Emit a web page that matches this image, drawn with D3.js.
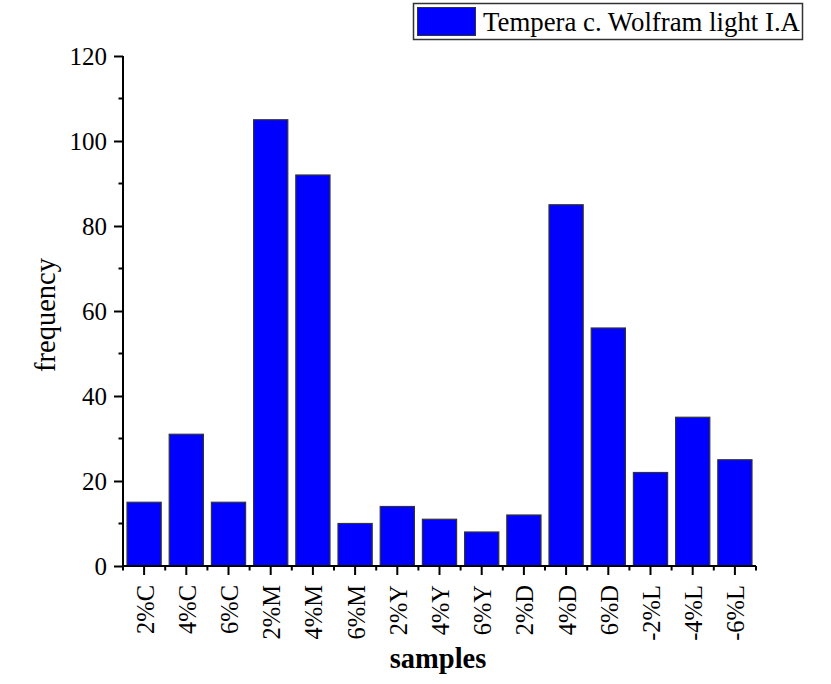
<!DOCTYPE html>
<html><head><meta charset="utf-8">
<script src="https://cdn.jsdelivr.net/npm/d3@7"></script>
<style>body{margin:0;background:#fff}svg{display:block}text{font-family:"Liberation Serif","Times New Roman",serif;fill:#000}</style>
</head><body>
<svg id="c" width="831" height="684"></svg>
<script>
const categories = ["2%C","4%C","6%C","2%M","4%M","6%M","2%Y","4%Y","6%Y","2%D","4%D","6%D","-2%L","-4%L","-6%L"];
const values = [15,31,15,105,92,10,14,11,8,12,85,56,22,35,25];
const yTicks = [0,20,40,60,80,100,120];
const seriesName = "Tempera c. Wolfram light I.A";
const xTitle = "samples", yTitle = "frequency";

const svg = d3.select("#c");
const L = 123, R = 756, T = 56, B = 566;
const x = d3.scaleBand().domain(categories).range([L, R]).paddingInner(0.19).paddingOuter(0.095);
const y = d3.scaleLinear().domain([0, 120]).range([B, T]);

// bars
svg.append("g").selectAll("rect").data(values).join("rect")
  .attr("x", (d,i) => x(categories[i]))
  .attr("y", d => y(d))
  .attr("width", x.bandwidth())
  .attr("height", d => B - y(d))
  .attr("fill", "#0000ff")
  .attr("stroke", "#333")
  .attr("stroke-width", 1.2);

// y axis
const ya = svg.append("g").attr("transform", `translate(${L},0)`)
  .call(d3.axisLeft(y).tickValues(yTicks).tickSize(9).tickPadding(7).tickFormat(d3.format("d")));
ya.select(".domain").attr("stroke", "#000").attr("stroke-width", 2).attr("d", `M0,${T}V${B}`);
ya.selectAll(".tick line").attr("stroke", "#000").attr("stroke-width", 2);
ya.selectAll(".tick text").attr("font-size", 25).attr("font-family", "Liberation Serif, Times New Roman, serif").attr("dy", "0.33em");
// y minor ticks
svg.append("g").selectAll("line").data(d3.range(10, 120, 20)).join("line")
  .attr("x1", L - 4.5).attr("x2", L).attr("y1", d => y(d)).attr("y2", d => y(d))
  .attr("stroke", "#000").attr("stroke-width", 2);

// x axis
const xa = svg.append("g").attr("transform", `translate(0,${B})`)
  .call(d3.axisBottom(x).tickSize(9).tickFormat(""));
xa.select(".domain").attr("stroke", "#000").attr("stroke-width", 2).attr("d", `M${L},0H${R}`);
xa.selectAll(".tick line").attr("stroke", "#000").attr("stroke-width", 2);
// x minor ticks at band boundaries
const step = x.step();
const bounds = d3.range(categories.length + 1).map(i => L + i * step);
svg.append("g").selectAll("line").data(bounds).join("line")
  .attr("x1", d => d).attr("x2", d => d).attr("y1", B).attr("y2", B + 4.5)
  .attr("stroke", "#000").attr("stroke-width", 2);
// x labels rotated
svg.append("g").selectAll("text").data(categories).join("text")
  .attr("transform", d => `translate(${x(d) + x.bandwidth()/2 + 9.5},585) rotate(-90)`)
  .attr("text-anchor", "end")
  .attr("font-size", 24.5)
  .text(d => d);

// axis titles
svg.append("text").attr("x", 438).attr("y", 668).attr("text-anchor", "middle")
  .attr("font-size", 28.5).attr("font-weight", "bold").text(xTitle);
svg.append("text").attr("transform", "translate(55,315) rotate(-90)").attr("text-anchor", "middle")
  .attr("font-size", 28.5).text(yTitle);

// legend
const lg = svg.append("g");
lg.append("rect").attr("x", 413.5).attr("y", 3.5).attr("width", 389).attr("height", 36)
  .attr("fill", "#fff").attr("stroke", "#333").attr("stroke-width", 1.5);
lg.append("rect").attr("x", 417.5).attr("y", 7.5).attr("width", 58).attr("height", 28)
  .attr("fill", "#0000ff").attr("stroke", "#333").attr("stroke-width", 1);
lg.append("text").attr("x", 483).attr("y", 31).attr("font-size", 26.8).text(seriesName);
</script>
</body></html>
